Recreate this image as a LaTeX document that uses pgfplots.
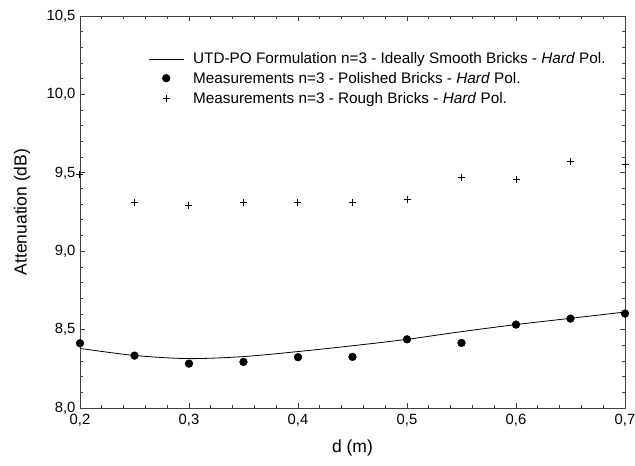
\documentclass[border=0pt]{standalone}
\usepackage{pgfplots}
\pgfplotsset{compat=1.18}
\usepackage{fontspec}
\setmainfont{Liberation Sans}
\pgfplotsset{
  legline/.style={legend image code/.code={\draw[##1] (0pt,2pt) -- (35pt,2pt); \path (44pt,0pt);}},
  legmark/.style={legend image code/.code={\draw[mark repeat=2,mark phase=2,##1] plot coordinates {(0pt,3pt) (17.5pt,3pt) (35pt,3pt)}; \path (0pt,0pt) (44pt,0pt);}},
}
\begin{document}
\begin{tikzpicture}
\path[use as bounding box] (-80pt,-58pt) rectangle (555pt,408pt);
\begin{axis}[
  scale only axis,
  width=545pt, height=392pt,
  at={(0pt,0pt)}, anchor=south west,
  xmin=0.2, xmax=0.7, ymin=8.0, ymax=10.5,
  xtick={0.2,0.3,0.4,0.5,0.6,0.7},
  ytick={8.0,8.5,9.0,9.5,10.0,10.5},
  minor x tick num=4, minor y tick num=4,
  tick align=inside,
  major tick length=5pt, minor tick length=3pt,
  axis line style={line width=0.9pt, black!75},
  every tick/.style={black!75, line width=0.7pt},
  /pgf/number format/.cd, use comma, fixed, fixed zerofill, precision=1, assume math mode=true,
  /pgfplots/.cd,
  ticklabel style={font=\fontsize{14.8}{16}\selectfont},
  xticklabel style={yshift=-3pt},
  yticklabel style={xshift=-1pt},
  xlabel={d (m)}, ylabel={Attenuation (dB)},
  every axis x label/.style={at={(272.5pt,-40pt)}, anchor=center, font=\fontsize{17.5}{19}\selectfont},
  every axis y label/.style={at={(-58pt,196pt)}, rotate=90, anchor=center, font=\fontsize{17.5}{19}\selectfont},
  legend cell align=left,
  legend style={at={(68pt,357pt)}, anchor=north west, draw=none, fill=none,
    font=\fontsize{15.3}{17}\selectfont, row sep=0pt, inner sep=0pt,
    nodes={inner sep=0pt, text height=12pt, text depth=8pt},
    /tikz/every odd column/.append style={column sep=0pt}},
]
\addplot[black, line width=0.8pt, smooth, mark=none, legline]
  coordinates {(0.2,8.380) (0.25,8.335) (0.3,8.315) (0.35,8.328) (0.4,8.360) (0.45,8.397) (0.5,8.438) (0.55,8.487) (0.6,8.532) (0.65,8.572) (0.7,8.612)};
\addlegendentry{UTD-PO Formulation n=3 - Ideally Smooth Bricks - \textit{Hard} Pol.}
\addplot[only marks, mark=*, mark size=3.9pt, black, legmark]
  coordinates {(0.2,8.413) (0.25,8.334) (0.3,8.283) (0.35,8.294) (0.4,8.324) (0.45,8.326) (0.5,8.438) (0.55,8.415) (0.6,8.532) (0.65,8.570) (0.7,8.602)};
\addlegendentry{Measurements n=3 - Polished Bricks - \textit{Hard} Pol.}
\addplot[only marks, mark=+, mark size=3.5pt, black, line width=1pt, legmark]
  coordinates {(0.2,9.49) (0.25,9.31) (0.3,9.29) (0.35,9.31) (0.4,9.31) (0.45,9.31) (0.5,9.33) (0.55,9.47) (0.6,9.46) (0.65,9.57) (0.7,9.555)};
\addlegendentry{Measurements n=3 - Rough Bricks - \textit{Hard} Pol.}
\end{axis}
\end{tikzpicture}
\end{document}
